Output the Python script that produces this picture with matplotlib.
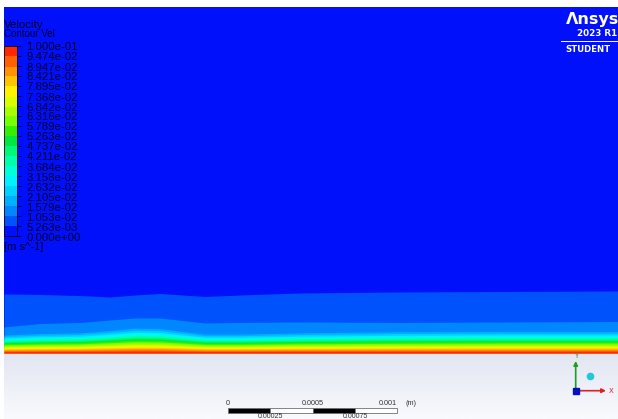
import numpy as np
import matplotlib
matplotlib.use("Agg")
import matplotlib.pyplot as plt
from matplotlib.colors import ListedColormap, BoundaryNorm, LinearSegmentedColormap
from matplotlib.cm import ScalarMappable
from matplotlib.patches import Rectangle
from matplotlib.ticker import FormatStrFormatter

# Legend levels of the velocity contour [m s^-1]
levels = [0.0, 5.263e-03, 1.053e-02, 1.579e-02, 2.105e-02, 2.632e-02, 3.158e-02,
          3.684e-02, 4.211e-02, 4.737e-02, 5.263e-02, 5.789e-02, 6.316e-02,
          6.842e-02, 7.368e-02, 7.895e-02, 8.421e-02, 8.947e-02, 9.474e-02, 1.0e-01]

# Band colours, low -> high velocity
band_colors = ['#0010fa', '#0052fc', '#0086ff', '#00aeff', '#00d2ff', '#00f2ff',
               '#00ffd8', '#00ffa8', '#00f878', '#00e840', '#34f000', '#78ff00',
               '#a8ff00', '#d8ff00', '#fff200', '#ffc400', '#ff9400', '#ff6000',
               '#ff2800']

# Stations along the wall (screen px) and contour edge heights above the wall (px)
x_stations = [4, 40, 80, 110, 135, 160, 205, 240, 300, 400, 500, 618]
edge_0 = [59, 58.5, 57.5, 56, 58, 59.5, 56.5, 58, 60, 61, 61.5, 62]
edge_1 = [26, 29.5, 30.5, 33, 35, 35, 30, 30.5, 31, 30.5, 31, 31.5]
# inner edges (levels 2..17) at the first station, and their thickness factor per station
inner_profile = [18, 16.5, 15, 13.8, 12.6, 11.5, 10.4, 9.3, 8.2, 7.2, 6.2, 5.2,
                 4.2, 3.2, 2.3, 1.4]
inner_scale = [1.0, 1.08, 1.12, 1.25, 1.38, 1.35, 1.05, 1.05, 1.12, 1.18, 1.2, 1.2]

# Scale bar [m]
scale_ticks = [0, 0.00025, 0.0005, 0.00075, 0.001]
scale_top = ['0', '0.0005', '0.001']
scale_bottom = ['0.00025', '0.00075']

W, H = 618, 419
FIELD_LEFT, FIELD_TOP, WALL_Y = 4, 7, 353
TXT = '#00002e'


def draw_field(ax, cmap):
    """Draw the contour bands of the velocity field above the wall."""
    ax.add_patch(Rectangle((FIELD_LEFT, FIELD_TOP), W - FIELD_LEFT, WALL_Y - FIELD_TOP,
                           color=cmap(0), lw=0, zorder=0))
    xg = np.linspace(x_stations[0], W, 500)
    scale = np.interp(xg, x_stations, inner_scale)
    bounds = [np.interp(xg, x_stations, edge_0), np.interp(xg, x_stations, edge_1)]
    bounds += [scale * d for d in inner_profile]
    for k in range(1, len(band_colors)):
        ax.fill_between(xg, WALL_Y - bounds[k - 1], WALL_Y, color=cmap(k), lw=0,
                        zorder=1 + k * 0.01)
    # light floor below the wall
    grad = LinearSegmentedColormap.from_list('floor', ['#e2e6f2', '#f9fafd'])
    ax.imshow(np.linspace(0, 1, 64)[:, None], cmap=grad, aspect='auto',
              extent=[FIELD_LEFT, W, H, WALL_Y], zorder=0)


def draw_legend(fig, ax, cmap, norm):
    """Ansys style colour legend on the left."""
    cax = fig.add_axes([FIELD_LEFT / W, 1 - 236.5 / H, 12.5 / W, 190 / H])
    cb = fig.colorbar(ScalarMappable(norm=norm, cmap=cmap), cax=cax, ticks=levels)
    cb.ax.yaxis.set_major_formatter(FormatStrFormatter('%.3e'))
    cb.ax.tick_params(length=3, width=0.6, color=TXT, labelcolor=TXT,
                      labelsize=8.2, pad=4)
    for lab in cb.ax.get_yticklabels():
        lab.set_family('Liberation Sans')
    cb.outline.set_edgecolor(TXT)
    cb.outline.set_linewidth(0.6)
    ax.text(4, 27.5, 'Velocity', fontsize=8.2, family='Liberation Sans', color=TXT,
            va='baseline')
    ax.text(4, 37, 'Contour Vel', fontsize=7, family='Liberation Sans', color=TXT,
            va='baseline')
    ax.text(4, 250, '[m s^-1]', fontsize=8, family='Liberation Sans', color=TXT,
            va='baseline')


def draw_logo(ax):
    """Product logo, top right."""
    ax.text(619, 24, 'Λnsys', fontsize=11.5, fontweight='bold', color='white',
            ha='right', va='baseline')
    ax.text(617.5, 36.5, '2023 R1', fontsize=6.3, fontweight='bold', color='white',
            ha='right', va='baseline')
    ax.plot([561, 618], [40.7, 40.7], color='white', lw=0.7)
    ax.text(565, 51.5, 'STUDENT', fontsize=6.2, fontweight='bold', color='white',
            va='baseline')


def draw_scale_and_triad(ax):
    """Scale bar at the bottom and the axis triad at the bottom right."""
    x0, px_per_m = 227.7, 169600
    xs = [x0 + t * px_per_m for t in scale_ticks]
    for i in range(len(xs) - 1):
        ax.add_patch(Rectangle((xs[i], 407.7), xs[i + 1] - xs[i], 5,
                               facecolor='black' if i % 2 == 0 else 'white',
                               edgecolor='#707070', lw=0.6, zorder=3))
    # first label centred, middle centred, last one ends at the bar end
    for x, lab, ha in zip(xs[::2], scale_top, ['center', 'center', 'right']):
        ax.text(x, 404.5, lab, fontsize=5.2, color='#333333', ha=ha,
                va='baseline', family='Liberation Sans')
    ax.text(405, 404.5, '(m)', fontsize=5.2, color='#333333', ha='left',
            va='baseline', family='Liberation Sans')
    for x, lab in zip(xs[1::2], scale_bottom):
        ax.text(x, 417.8, lab, fontsize=5, color='#333333', ha='center',
                va='baseline', family='Liberation Sans')

    ox, oy = 575.7, 390.7
    ax.annotate('', xy=(ox, 361), xytext=(ox, oy),
                arrowprops=dict(arrowstyle='-|>', color='#18a020', lw=1.2,
                                mutation_scale=6, shrinkA=0, shrinkB=0), zorder=4)
    ax.annotate('', xy=(606, oy), xytext=(ox, oy),
                arrowprops=dict(arrowstyle='-|>', color='#e02020', lw=1.2,
                                mutation_scale=6, shrinkA=0, shrinkB=0), zorder=4)
    ax.plot(ox, oy, 's', color='#0010c0', ms=4, zorder=5)
    ax.plot(590, 375.5, 'o', color='#20c8d8', ms=4.5, zorder=5)
    ax.text(576, 355.5, 'Y', fontsize=5, color='#18a020', ha='center', va='center')
    ax.text(611, 391, 'X', fontsize=5, color='#e02020', ha='center', va='center')


def main():
    fig = plt.figure(figsize=(W / 100, H / 100), dpi=100)
    ax = fig.add_axes([0, 0, 1, 1])
    ax.set_xlim(0, W)
    ax.set_ylim(H, 0)
    ax.axis('off')

    cmap = ListedColormap(band_colors)
    norm = BoundaryNorm(levels, cmap.N)

    draw_field(ax, cmap)
    draw_logo(ax)
    draw_scale_and_triad(ax)
    draw_legend(fig, ax, cmap, norm)

    fig.savefig('out.png', dpi=100, facecolor='white')


main()
